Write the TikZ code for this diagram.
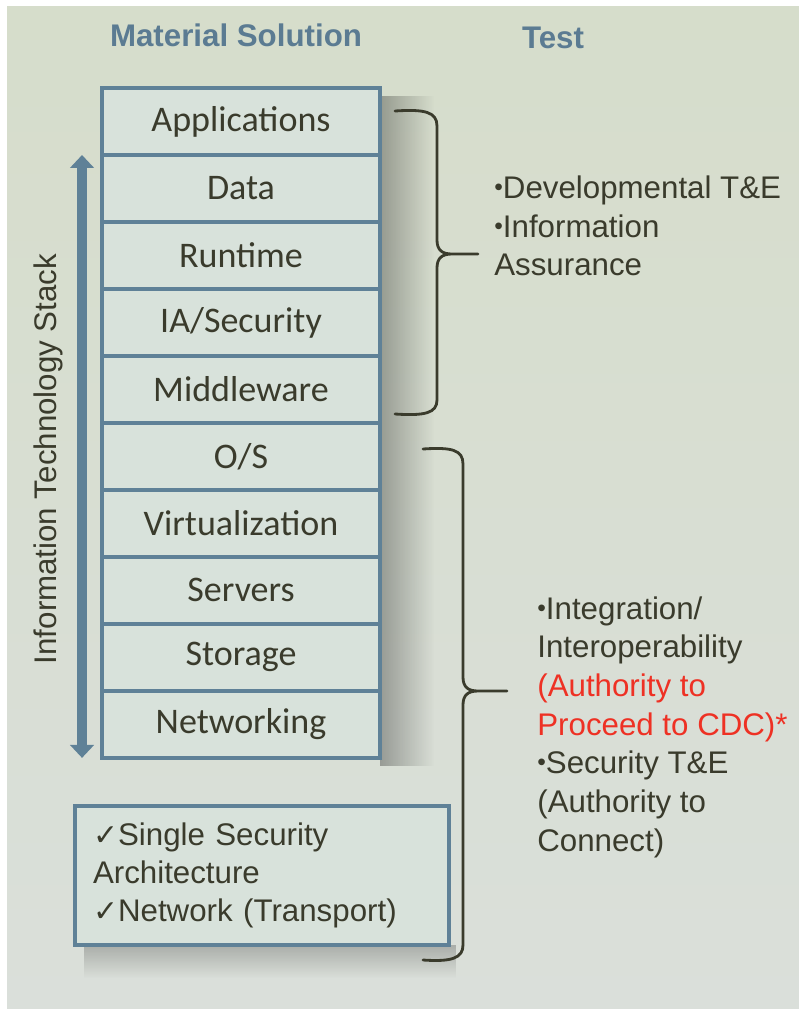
\documentclass[tikz,border=0pt]{standalone}
\usepackage{fontspec}
\setmainfont{Liberation Sans}
\newfontfamily\stackfont{Carlito}
\newfontfamily\tickfont{DejaVu Sans}
\usetikzlibrary{positioning,arrows.meta,fadings}
\usepackage{xcolor}
\definecolor{slate}{HTML}{5F8197}
\definecolor{boxfill}{HTML}{D8E2DB}
\definecolor{ink}{HTML}{3A3B2C}
\definecolor{hdr}{HTML}{5B7B92}
\definecolor{atored}{HTML}{EE3124}
\definecolor{bgtop}{HTML}{D6DDCB}
\definecolor{bgmid}{HTML}{CBD2BF}
\definecolor{bgbot}{HTML}{DADFDA}

\tikzfading[name=shadowright, left color=transparent!0, right color=transparent!100]
\tikzfading[name=shadowdown, top color=transparent!0, bottom color=transparent!100]

\tikzset{
  layer/.style = {draw=slate, fill=boxfill, line width=2.2pt, outer sep=0pt,
    minimum width=5.56cm, minimum height=1.34cm, inner sep=0pt,
    text=ink, font=\stackfont\fontsize{20.5}{24}\selectfont},
  hdrtext/.style = {text=hdr, font=\bfseries\fontsize{17.8}{21}\selectfont},
  testtext/.style = {text=ink, align=left, inner sep=0pt, anchor=west,
    font=\fontsize{17.8}{22}\selectfont},
  bracket/.style = {draw=ink, line width=1.6pt, line cap=round, line join=round},
}
\newcommand{\bul}{\raisebox{1.6pt}{\fontsize{14}{14}\selectfont\textbullet}}
\newcommand{\tick}{{\tickfont\fontsize{17}{17}\selectfont ✓}}

\begin{document}
\begin{tikzpicture}[x=0.02cm, y=-0.02cm]
% page and background
\useasboundingbox (0,0) rectangle (799,1009);
\fill[white] (0,0) rectangle (799,1009);
\shade[top color=bgtop, middle color=bgmid, bottom color=bgbot] (7,6) rectangle (799,1009);

% soft shadows beside the boxes
\fill[black, opacity=0.3, path fading=shadowright] (380,96) rectangle (434,766);
\fill[black, opacity=0.22, path fading=shadowdown] (84,945) rectangle (456,978);

% column headers
\node[hdrtext] (matsol) at (236,35) {Material Solution};
\node[hdrtext] (test) at (553,38) {Test};

% stack
\node[layer] (apps) at (241,121.5) {Applications};
\node[layer, below=0pt of apps] (data) {Data};
\node[layer, below=0pt of data] (runtime) {Runtime};
\node[layer, below=0pt of runtime] (iasec) {IA/Security};
\node[layer, below=0pt of iasec] (middle) {Middleware};
\node[layer, below=0pt of middle] (os) {O/S};
\node[layer, below=0pt of os] (virt) {Virtualization};
\node[layer, below=0pt of virt] (servers) {Servers};
\node[layer, below=0pt of servers] (storage) {Storage};
\node[layer, below=0pt of storage] (network) {Networking};

% double arrow and its label
\draw[draw=slate, line width=6pt,
  {Triangle[length=0.26cm,width=0.47cm]}-{Triangle[length=0.26cm,width=0.47cm]}]
  ([xshift=-0.4cm]data.north west) -- ([xshift=-0.4cm]network.south west);
\node[rotate=90, text=ink, font=\fontsize{17.8}{21}\selectfont] (itstack) at (48,459)
  {Information Technology Stack};

% braces
\draw[bracket] (395,111) .. controls (425,109) and (437,112) .. (437,126) -- (437,240)
  .. controls (437,250) and (442,254) .. (452,254) -- (478,254)
  (452,254) .. controls (442,254) and (437,258) .. (437,268) -- (437,400)
  .. controls (437,413) and (425,416) .. (395,414);
\draw[bracket] (423,449) .. controls (452,447) and (463,450) .. (463,464) -- (463,677)
  .. controls (463,687) and (468,691) .. (478,691) -- (507,691)
  (478,691) .. controls (468,691) and (463,695) .. (463,705) -- (463,945)
  .. controls (463,958) and (452,962) .. (423,960);

% test texts
\node[testtext] (devte) at (494,226)
  {\bul Developmental T\&E\\\bul Information\\Assurance};
\node[testtext] (intop) at (537,727)
  {\bul Integration/\\Interoperability\\\textcolor{atored}{(Authority to}\\
   \textcolor{atored}{Proceed to CDC)*}\\\bul Security T\&E\\(Authority to\\Connect)};

% shared services box
\node[draw=slate, fill=boxfill, line width=2.6pt, text width=6.76cm, inner xsep=0.36cm,
  minimum height=2.78cm, align=left, text=ink, font=\fontsize{17.8}{21.6}\selectfont]
  (ssa) at (262,875.5) {\tick Single Security\\Architecture\\\tick Network (Transport)};
\end{tikzpicture}
\end{document}
